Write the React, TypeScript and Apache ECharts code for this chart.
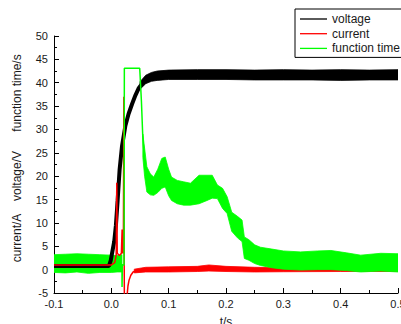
import React, { useEffect, useRef } from "react";
import * as echarts from "echarts";

// ---- data ----
// voltage (black): clean rise drawn as a thick line, noisy plateau as a band
const voltageT = [-0.1, -0.004, -0.001, 0.002, 0.005, 0.008, 0.011, 0.0145, 0.0187, 0.0245, 0.03, 0.036, 0.042, 0.048, 0.055, 0.062, 0.07, 0.08, 0.1, 0.2, 0.3, 0.4, 0.5];
const voltageV = [0.8, 0.8, 2.0, 4.0, 6.0, 9.5, 14.8, 21.5, 26.5, 30.8, 33.3, 35.4, 37.3, 38.9, 40.0, 40.7, 41.2, 41.4, 41.6, 41.7, 41.7, 41.6, 41.6];
const voltageBandT = [0.05, 0.06, 0.07, 0.08, 0.1, 0.15, 0.2, 0.25, 0.3, 0.35, 0.4, 0.45, 0.5];
const voltageBandLo = [38.6, 39.8, 40.3, 40.5, 40.7, 40.7, 40.7, 40.6, 40.6, 40.6, 40.5, 40.6, 40.6];
const voltageBandHi = [40.2, 41.6, 42.2, 42.5, 42.7, 42.8, 42.8, 42.7, 42.8, 42.7, 42.8, 42.7, 42.8];

// current (red)
const currentT = [-0.1, 0.0, 0.006, 0.0085, 0.0095, 0.0103, 0.014, 0.0175, 0.0188, 0.0198, 0.021, 0.0218, 0.0224, 0.023, 0.0265, 0.0275, 0.029, 0.031, 0.034, 0.038, 0.045];
const currentV = [1.0, 1.0, 1.5, 3.2, 18.6, 3.5, 3.0, 3.5, 8.6, 3.5, 3.8, 37.0, 2.0, -12, -12, -5.5, -3.5, -2.2, -1.2, -0.5, -0.1];
const currentBandT = [0.04, 0.06, 0.1, 0.15, 0.17, 0.2, 0.25, 0.3, 0.4, 0.5];
const currentBandLo = [-0.7, -0.5, -0.5, -0.4, -0.3, -0.4, -0.5, -0.45, -0.4, -0.4];
const currentBandHi = [0.1, 0.5, 0.6, 0.7, 1.0, 0.7, 0.5, 0.4, 0.4, 0.3];

// function time (green)
const funcPreT = [-0.1, -0.08, -0.06, -0.04, -0.02, 0.0, 0.01, 0.0185];
const funcPreLo = [-0.6, -0.7, -0.5, -0.8, -0.6, -0.6, -0.5, -0.5];
const funcPreHi = [3.2, 3.3, 3.4, 3.3, 3.2, 3.1, 3.0, 3.2];
const funcLineT = [0.0185, 0.0187, 0.0193, 0.0222, 0.0227, 0.0495, 0.0525, 0.055, 0.057];
const funcLineV = [1.2, -3.7, 1.0, 1.0, 43.1, 43.1, 36.0, 28.0, 25.0];
const funcPostT = [0.055, 0.058, 0.062, 0.068, 0.074, 0.081, 0.088, 0.094, 0.1, 0.105, 0.115, 0.126, 0.138, 0.153, 0.167, 0.176, 0.185, 0.194, 0.202, 0.21, 0.22, 0.228, 0.232, 0.24, 0.25, 0.26, 0.28, 0.3, 0.33, 0.36, 0.383, 0.41, 0.435, 0.47, 0.5];
const funcPostLo = [24, 20, 16.6, 16.0, 15.9, 16.5, 17.4, 17.7, 15.8, 14.8, 14.1, 13.8, 13.8, 14.1, 14.8, 15.3, 15.2, 13.1, 12.0, 8.2, 6.8, 6.0, 2.4, 2.0, 1.3, 0.9, 0.4, 0.1, -0.1, 0.0, 0.0, -0.2, -0.5, -0.3, -0.5];
const funcPostHi = [29, 26, 22, 20.5, 19.8, 21.5, 23.8, 24.1, 21.5, 19.8, 19.1, 18.8, 18.5, 20.2, 20.2, 20.2, 18.1, 17.4, 15.6, 12.3, 11.4, 10.6, 7.0, 6.4, 5.3, 4.8, 4.4, 4.0, 3.8, 4.0, 4.1, 3.6, 3.1, 3.5, 3.4];

const seriesNames = ["voltage", "current", "function time"];
const yTitles = ["current/A", "voltage/V", "function time/s"];

const FONT = "'Liberation Sans', Arial, sans-serif";
const BLACK = "#000000";
const RED = "#ff0000";
const GREEN = "#00ff00";
const LEGEND_LINE = "path://M0,0 L27,0 L27,1.3 L0,1.3 Z";

const zip = (t: number[], v: number[]) => t.map((x, i) => [x, v[i]]);

function bandSeries(name: string, t: number[], lo: number[], hi: number[], color: string) {
  return {
    type: "custom",
    name,
    coordinateSystem: "cartesian2d",
    clip: true,
    silent: true,
    data: [[t[0], lo[0]]],
    renderItem: (_params: any, api: any) => {
      const pts: number[][] = [];
      for (let i = 0; i < t.length; i++) pts.push(api.coord([t[i], hi[i]]));
      for (let i = t.length - 1; i >= 0; i--) pts.push(api.coord([t[i], lo[i]]));
      return {
        type: "polygon",
        shape: { points: pts },
        style: { fill: color, stroke: color, lineWidth: 0.8 },
      };
    },
  };
}

function lineSeries(name: string, t: number[], v: number[], color: string, width: number) {
  return {
    type: "line",
    name,
    data: zip(t, v),
    symbol: "none",
    clip: true,
    lineStyle: { color, width },
    itemStyle: { color },
  };
}

export default function App() {
  const ref = useRef<HTMLDivElement>(null);
  useEffect(() => {
    if (!ref.current) return;
    const chart = echarts.init(ref.current, null, { renderer: "svg" });
    const option: any = {
      animation: false,
      backgroundColor: "#ffffff",
      grid: { left: 54, right: 3, top: 36, bottom: 31, containLabel: false, outerBoundsMode: "none" },
      xAxis: {
        type: "value",
        min: -0.1,
        max: 0.5,
        interval: 0.1,
        name: "t/s",
        nameLocation: "middle",
        nameGap: 23,
        nameTextStyle: { fontFamily: FONT, fontSize: 12, color: "#1a1a1a" },
        axisLine: { show: true, onZero: false, lineStyle: { color: BLACK, width: 1 } },
        axisTick: { show: true, inside: true, length: 5, lineStyle: { color: BLACK } },
        minorTick: { show: true, splitNumber: 2, length: 3, lineStyle: { color: BLACK } },
        splitLine: { show: false },
        axisLabel: {
          fontFamily: FONT,
          fontSize: 11,
          color: "#1a1a1a",
          margin: 5,
          formatter: (v: number) => v.toFixed(1),
        },
      },
      yAxis: {
        type: "value",
        min: -5,
        max: 50,
        interval: 5,
        axisLine: { show: true, onZero: false, lineStyle: { color: BLACK, width: 1 } },
        axisTick: { show: true, inside: true, length: 5, lineStyle: { color: BLACK } },
        minorTick: { show: true, splitNumber: 2, length: 3, lineStyle: { color: BLACK } },
        splitLine: { show: false },
        axisLabel: { fontFamily: FONT, fontSize: 11, color: "#1a1a1a", margin: 6 },
      },
      legend: {
        data: seriesNames.map((n) => ({ name: n, icon: LEGEND_LINE })),
        orient: "vertical",
        left: 295,
        top: 9,
        padding: [4, 8, 3, 5],
        itemWidth: 27,
        itemHeight: 12,
        itemGap: 2.7,
        borderColor: BLACK,
        borderWidth: 1,
        borderRadius: 0,
        backgroundColor: "#ffffff",
        textStyle: { fontFamily: FONT, fontSize: 12, color: "#1a1a1a" },
      },
      graphic: [
        { type: "text", x: 17, y: 238, rotation: Math.PI / 2, style: { text: yTitles[0], fontFamily: FONT, fontSize: 12, fill: "#1a1a1a", align: "center", verticalAlign: "middle" } },
        { type: "text", x: 17, y: 176, rotation: Math.PI / 2, style: { text: yTitles[1], fontFamily: FONT, fontSize: 12, fill: "#1a1a1a", align: "center", verticalAlign: "middle" } },
        { type: "text", x: 17, y: 93, rotation: Math.PI / 2, style: { text: yTitles[2], fontFamily: FONT, fontSize: 12, fill: "#1a1a1a", align: "center", verticalAlign: "middle" } },
      ],
      series: [
        // thick trace of the voltage signal (not in legend)
        lineSeries("voltage-trace", voltageT, voltageV, BLACK, 4),
        bandSeries("voltage-band", voltageBandT, voltageBandLo, voltageBandHi, BLACK),
        // legend-carrying thin voltage line over the same data
        lineSeries(seriesNames[0], voltageT, voltageV, BLACK, 1.5),
        lineSeries(seriesNames[1], currentT, currentV, RED, 1.5),
        bandSeries("current-band", currentBandT, currentBandLo, currentBandHi, RED),
        bandSeries("function-pre", funcPreT, funcPreLo, funcPreHi, GREEN),
        bandSeries("function-post", funcPostT, funcPostLo, funcPostHi, GREEN),
        lineSeries(seriesNames[2], funcLineT, funcLineV, GREEN, 1.5),
      ],
    };
    chart.setOption(option);
    return () => chart.dispose();
  }, []);
  return (
    <div
      ref={ref}
      style={{ position: "fixed", left: 0, top: 0, width: 401, height: 324, background: "#fff" }}
    />
  );
}
